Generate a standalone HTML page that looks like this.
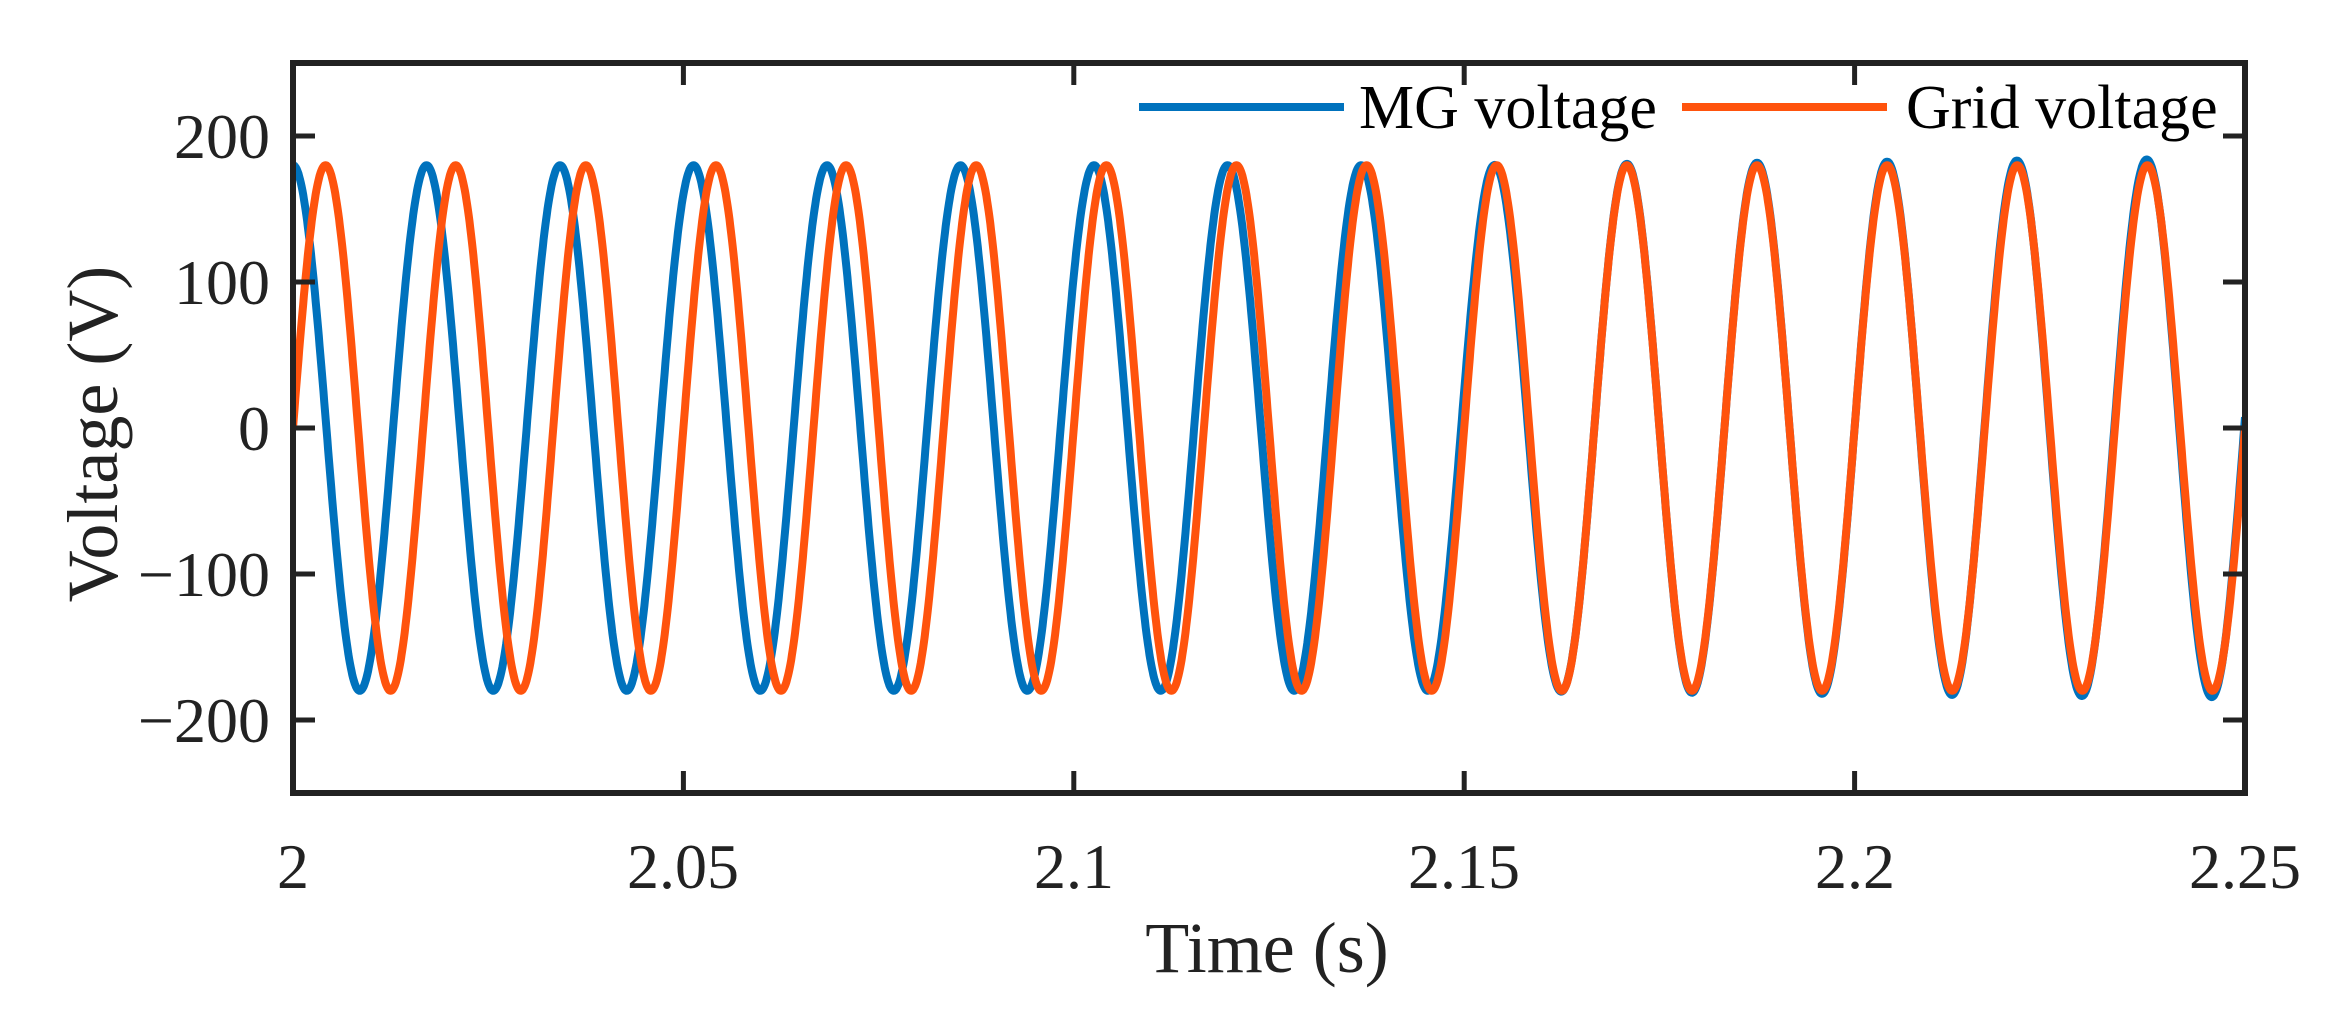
<!DOCTYPE html>
<html><head><meta charset="utf-8">
<style>
html,body{margin:0;padding:0;background:#fff;}
svg{display:block;}
text{font-family:"Liberation Serif",serif;fill:#222;}
</style></head>
<body>
<svg id="s" width="2335" height="1013" viewBox="0 0 2335 1013" xmlns="http://www.w3.org/2000/svg">
<rect width="2335" height="1013" fill="#fff"/>
<defs><clipPath id="c"><rect x="293" y="63" width="1952" height="730"/></clipPath></defs>
<g clip-path="url(#c)">
<path id="mg" fill="none" stroke="#0072BD" stroke-width="8" stroke-linejoin="round"/>
<path id="gr" fill="none" stroke="#FF530D" stroke-width="8" stroke-linejoin="round"/>
</g>
<g id="ticks" stroke="#222" stroke-width="5"></g>
<rect x="293" y="63" width="1952" height="730" fill="none" stroke="#222" stroke-width="6"/>
<g font-size="64" text-anchor="end">
<text x="270" y="158">200</text>
<text x="270" y="304">100</text>
<text x="270" y="450">0</text>
<text x="270" y="596">−100</text>
<text x="270" y="742">−200</text>
</g>
<g font-size="64" text-anchor="middle">
<text x="293" y="888">2</text>
<text x="683" y="888">2.05</text>
<text x="1074" y="888">2.1</text>
<text x="1464" y="888">2.15</text>
<text x="1855" y="888">2.2</text>
<text x="2245" y="888">2.25</text>
</g>
<text x="1267" y="972" font-size="72" text-anchor="middle">Time (s)</text>
<text transform="translate(117,434) rotate(-90)" font-size="72" text-anchor="middle">Voltage (V)</text>
<line x1="1139" y1="107" x2="1344" y2="107" stroke="#0072BD" stroke-width="8"/>
<text x="1359" y="128" font-size="62" style="fill:#000">MG voltage</text>
<line x1="1682" y1="107" x2="1887" y2="107" stroke="#FF530D" stroke-width="8"/>
<text x="1906" y="128" font-size="62" style="fill:#000">Grid voltage</text>
</svg>
<script>
var X=function(t){return 293+(t-2)/0.25*1952;};
var Y=function(v){return 428-v*1.46;};
var mg="",gr="";
for(var i=0;i<=2500;i++){
 var tau=i*0.0001,t=2+tau;
 var w=2*Math.PI*60*tau;
 var g=180*Math.sin(w);
 var f=Math.max(0,1-tau/0.165);
 var ph=Math.PI/2*f;
 var amp=180+Math.max(0,(tau-0.15))*45;
 var m=amp*Math.sin(w+ph+0.04*(tau>0.2?(tau-0.2)*20:0));
 mg+=(i?"L":"M")+X(t).toFixed(1)+","+Y(m).toFixed(1);
 gr+=(i?"L":"M")+X(t).toFixed(1)+","+Y(g).toFixed(1);
}
document.getElementById("mg").setAttribute("d",mg);
document.getElementById("gr").setAttribute("d",gr);
var tk="";
[0,1,2,3,4,5].forEach(function(k){var x=293+k*390.4;
 tk+='<line x1="'+x+'" y1="793" x2="'+x+'" y2="771"/><line x1="'+x+'" y1="63" x2="'+x+'" y2="85"/>';});
[-200,-100,0,100,200].forEach(function(v){var y=Y(v);
 tk+='<line x1="293" y1="'+y+'" x2="315" y2="'+y+'"/><line x1="2245" y1="'+y+'" x2="2223" y2="'+y+'"/>';});
document.getElementById("ticks").innerHTML=tk;
</script>
</body></html>
